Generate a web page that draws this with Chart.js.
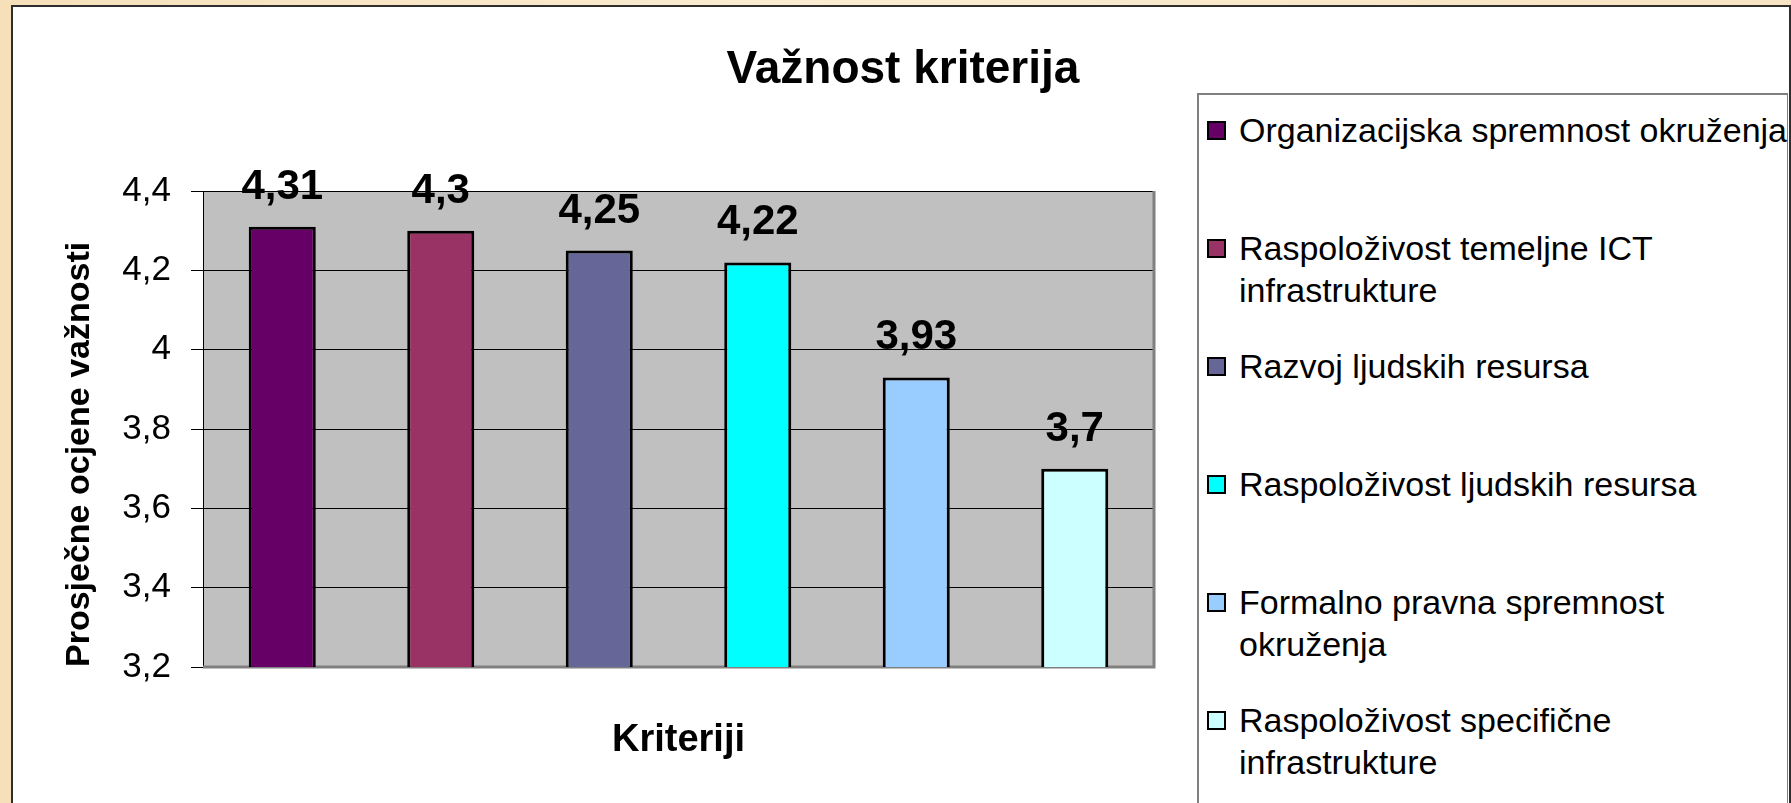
<!DOCTYPE html>
<html>
<head>
<meta charset="utf-8">
<title>Važnost kriterija</title>
<script src="https://cdn.jsdelivr.net/npm/chart.js@4.4.1/dist/chart.umd.min.js"></script>
<style>
	html, body { margin: 0; padding: 0; }
	body {
		width: 1791px;
		height: 803px;
		overflow: hidden;
		position: relative;
		background: linear-gradient(90deg, #f5e0ba 0%, #fbecd1 45%, #f7e4c2 100%);
		font-family: 'Liberation Sans', Arial, sans-serif;
	}
	.frame {
		position: absolute;
		left: 11px;
		top: 5px;
		width: 1776px;
		height: 840px;
		background: #fff;
		border: 2px solid #2e2e2e;
	}
	#chart { position: absolute; left: 0; top: 0; }
	.legend-box {
		position: absolute;
		left: 1197px;
		top: 93px;
		width: 591px;
		height: 760px;
		box-sizing: border-box;
		border: 2px solid #7f7f7f;
		border-right-width: 1px;
	}
	.legend-mark {
		position: absolute;
		width: 19px;
		height: 19px;
		box-sizing: border-box;
		border: 2px solid #000;
	}
	.legend-text {
		position: absolute;
		font-size: 34px;
		line-height: 42px;
		color: #000;
		white-space: nowrap;
	}
</style>
</head>
<body>
<div class="frame"></div>
<div class="legend-box"></div>
<div id="legend"></div>
<canvas id="chart" width="1791" height="803"></canvas>
<script>
// criteria (one bar each), legend wording split the way the legend wraps it
const criteria = [
	'Organizacijska spremnost okruženja',
	'Raspoloživost temeljne ICT infrastrukture',
	'Razvoj ljudskih resursa',
	'Raspoloživost ljudskih resursa',
	'Formalno pravna spremnost okruženja',
	'Raspoloživost specifične infrastrukture'
];
const legend_lines = [
	['Organizacijska spremnost okruženja'],
	['Raspoloživost temeljne ICT', 'infrastrukture'],
	['Razvoj ljudskih resursa'],
	['Raspoloživost ljudskih resursa'],
	['Formalno pravna spremnost', 'okruženja'],
	['Raspoloživost specifične', 'infrastrukture']
];
const scores = [4.31, 4.3, 4.25, 4.22, 3.93, 3.7];

const y_min = 3.2;
const y_max = 4.4;
const y_step = 0.2;

const chart_title = 'Važnost kriterija';
const y_title = 'Prosječne ocjene važnosti';
const x_title = 'Kriteriji';

const bar_colors = ['#660066', '#993366', '#666699', '#00ffff', '#99ccff', '#ccffff'];

const FONT = "'Liberation Sans', Arial, sans-serif";

function fmt(v) {
	return Number(v.toFixed(2)).toString().replace('.', ',');
}

// legend (html, right side)
function render_legend() {
	const holder = document.getElementById('legend');
	legend_lines.forEach((lines, i) => {
		const cy = 130 + i * 118;
		const mark = document.createElement('div');
		mark.className = 'legend-mark';
		mark.style.left = '1207px';
		mark.style.top = (cy - 9) + 'px';
		mark.style.background = bar_colors[i];
		holder.appendChild(mark);

		const text = document.createElement('div');
		text.className = 'legend-text';
		text.style.left = '1239px';
		text.style.top = (cy - 21) + 'px';
		text.innerHTML = lines.join('<br>');
		holder.appendChild(text);
	});
}

const plot_background = {
	id: 'plot_background',
	beforeDraw(chart) {
		const {ctx, chartArea: a} = chart;
		ctx.save();
		ctx.fillStyle = '#c0c0c0';
		ctx.fillRect(a.left, a.top, a.right - a.left, a.bottom - a.top);
		ctx.restore();
	},
	beforeDatasetsDraw(chart) {
		const {ctx, chartArea: a} = chart;
		ctx.save();
		ctx.strokeStyle = '#808080';
		ctx.lineWidth = 3;
		ctx.beginPath();
		ctx.moveTo(a.left, a.bottom);
		ctx.lineTo(a.right, a.bottom);
		ctx.lineTo(a.right, a.top);
		ctx.stroke();
		ctx.restore();
	}
};

const bar_values = {
	id: 'bar_values',
	afterDatasetsDraw(chart) {
		const {ctx} = chart;
		const meta = chart.getDatasetMeta(0);
		ctx.save();
		ctx.fillStyle = '#000';
		ctx.font = 'bold 42px ' + FONT;
		ctx.textAlign = 'center';
		ctx.textBaseline = 'alphabetic';
		meta.data.forEach((bar, i) => {
			ctx.fillText(fmt(scores[i]), bar.x, bar.y - 28);
		});
		ctx.restore();
	}
};

const top_title = {
	id: 'top_title',
	afterDraw(chart) {
		const {ctx} = chart;
		ctx.save();
		ctx.fillStyle = '#000';
		ctx.font = 'bold 46px ' + FONT;
		ctx.textAlign = 'center';
		ctx.textBaseline = 'alphabetic';
		ctx.fillText(chart_title, 903, 83);
		ctx.restore();
	}
};

Chart.defaults.font.family = FONT;
Chart.defaults.color = '#000';

render_legend();

new Chart(document.getElementById('chart'), {
	type: 'bar',
	data: {
		labels: criteria,
		datasets: [{
			data: scores,
			backgroundColor: bar_colors,
			borderColor: '#000',
			borderWidth: 3,
			borderSkipped: false,
			barPercentage: 0.423,
			categoryPercentage: 1
		}]
	},
	options: {
		responsive: false,
		animation: false,
		devicePixelRatio: 1,
		layout: {
			padding: {left: 59, top: 191, right: 637, bottom: 40}
		},
		plugins: {
			legend: {display: false},
			tooltip: {enabled: false}
		},
		scales: {
			x: {
				ticks: {display: false},
				grid: {display: false},
				border: {display: false},
				title: {
					display: true,
					text: x_title,
					color: '#000',
					font: {size: 38, weight: 'bold'},
					padding: 0
				},
				afterFit(scale) { scale.height = 96; }
			},
			y: {
				min: y_min,
				max: y_max,
				ticks: {
					stepSize: y_step,
					color: '#000',
					font: {size: 35},
					padding: 20,
					callback: v => fmt(v)
				},
				grid: {color: '#000', lineWidth: 1, tickLength: 12, drawTicks: true},
				border: {display: true, color: '#000', width: 1},
				title: {
					display: true,
					text: y_title,
					align: 'start',
					color: '#000',
					font: {size: 34, weight: 'bold'},
					padding: 0
				},
				afterFit(scale) { scale.width = 144; }
			}
		}
	},
	plugins: [plot_background, bar_values, top_title]
});
</script>
</body>
</html>
